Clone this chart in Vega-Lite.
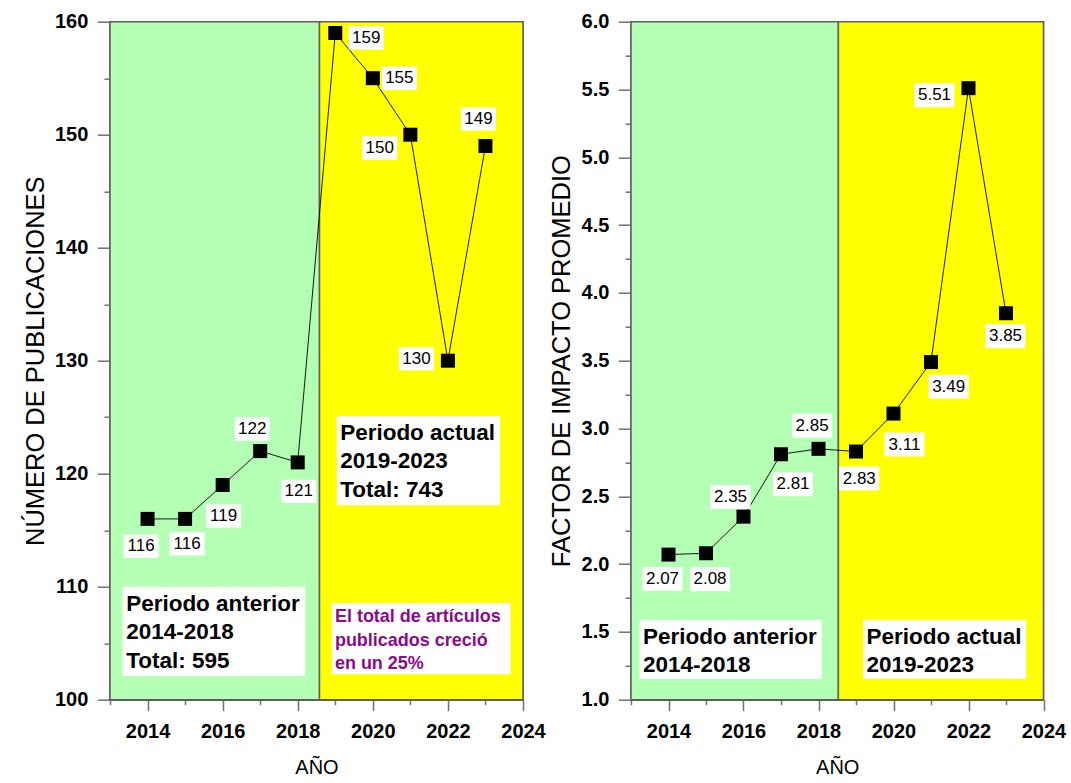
{
  "$schema": "https://vega.github.io/schema/vega-lite/v6.json",
  "background": "white",
  "padding": {"left": 22, "top": 10.7, "right": 0, "bottom": 0},
  "bounds": "flush",
  "spacing": 108,
  "datasets": {
    "pubs": [
      {"anio": 2014, "publicaciones": 116},
      {"anio": 2015, "publicaciones": 116},
      {"anio": 2016, "publicaciones": 119},
      {"anio": 2017, "publicaciones": 122},
      {"anio": 2018, "publicaciones": 121},
      {"anio": 2019, "publicaciones": 159},
      {"anio": 2020, "publicaciones": 155},
      {"anio": 2021, "publicaciones": 150},
      {"anio": 2022, "publicaciones": 130},
      {"anio": 2023, "publicaciones": 149}
    ],
    "fi": [
      {"anio": 2014, "factor": 2.07},
      {"anio": 2015, "factor": 2.08},
      {"anio": 2016, "factor": 2.35},
      {"anio": 2017, "factor": 2.81},
      {"anio": 2018, "factor": 2.85},
      {"anio": 2019, "factor": 2.83},
      {"anio": 2020, "factor": 3.11},
      {"anio": 2021, "factor": 3.49},
      {"anio": 2022, "factor": 5.51},
      {"anio": 2023, "factor": 3.85}
    ],
    "periodos_pub": [
      {"periodo": "anterior", "desde": 2013, "hasta": 2018.58},
      {"periodo": "actual", "desde": 2018.58, "hasta": 2024}
    ],
    "periodos_fi": [
      {"periodo": "anterior", "desde": 2013, "hasta": 2018.53},
      {"periodo": "actual", "desde": 2018.53, "hasta": 2024}
    ],
    "notas_pub": [
      {"texto": "Periodo anterior\n2014-2018\nTotal: 595", "x1": 2013.33, "x2": 2018.2, "y1": 110.0, "y2": 102.1, "tx": 2013.43, "ty": 107.87},
      {"texto": "Periodo actual\n2019-2023\nTotal: 743", "x1": 2019.04, "x2": 2023.39, "y1": 125.1, "y2": 117.2, "tx": 2019.13, "ty": 123.0}
    ],
    "nota_crecimiento": [
      {"texto": "El total de artículos\npublicados creció\nen un 25%", "x1": 2018.91, "x2": 2023.67, "y1": 108.56, "y2": 102.26, "tx": 2018.99, "ty": 106.84}
    ],
    "notas_fi": [
      {"texto": "Periodo anterior\n2014-2018", "x1": 2013.23, "x2": 2018.09, "y1": 1.59, "y2": 1.153, "tx": 2013.32, "ty": 1.413},
      {"texto": "Periodo actual\n2019-2023", "x1": 2019.19, "x2": 2023.54, "y1": 1.59, "y2": 1.153, "tx": 2019.28, "ty": 1.413}
    ]
  },
  "hconcat": [
    {
      "width": 413,
      "height": 678,
      "resolve": {"axis": {"x": "independent", "y": "independent"}},
      "layer": [
        {
          "layer": [
            {
              "data": {"name": "periodos_pub"},
              "mark": {"type": "rect", "stroke": "#5f5f5f", "strokeWidth": 1.5},
              "encoding": {
                "x": {"field": "desde", "type": "quantitative", "scale": {"domain": [2013, 2024], "nice": false, "zero": false}},
                "x2": {"field": "hasta"},
                "fill": {"field": "periodo", "type": "nominal", "scale": {"domain": ["anterior", "actual"], "range": ["#B3FFB3", "#FFFF00"]}, "legend": null}
              }
            },
            {
              "data": {"name": "pubs"},
              "mark": {"type": "line", "color": "black", "strokeWidth": 0.9},
              "encoding": {
                "x": {
                  "field": "anio", "type": "quantitative",
                  "scale": {"domain": [2013, 2024], "nice": false, "zero": false},
                  "axis": {
                    "title": "AÑO",
                    "orient": "bottom",
                    "values": [2014, 2016, 2018, 2020, 2022, 2024],
                    "format": "d",
                    "labelOverlap": false,
                    "labelFlush": false,
                    "tickSize": 11,
                    "labelPadding": 11,
                    "titleFontSize": 20,
                    "titlePadding": 16
                  }
                },
                "y": {
                  "field": "publicaciones", "type": "quantitative",
                  "scale": {"domain": [100, 160], "nice": false, "zero": false},
                  "axis": {
                    "title": "NÚMERO DE PUBLICACIONES",
                    "orient": "left",
                    "values": [100, 110, 120, 130, 140, 150, 160],
                    "labelOverlap": false,
                    "labelFlush": false,
                    "tickSize": 12.7,
                    "labelPadding": 9.5,
                    "titleFontSize": 25.5,
                    "titlePadding": 6
                  }
                }
              }
            },
            {
              "data": {"name": "pubs"},
              "mark": {"type": "point", "shape": "square", "filled": true, "color": "black", "opacity": 1, "size": 196},
              "encoding": {
                "x": {"field": "anio", "type": "quantitative"},
                "y": {"field": "publicaciones", "type": "quantitative"}
              }
            },
            {
              "data": {"name": "pubs"},
              "mark": {
                "type": "point", "shape": "M-1,-0.67H1V0.67H-1Z", "filled": true, "color": "white", "opacity": 1, "size": 1225,
                "xOffset": {"expr": "[-6.5, 2, 1, -8, 1, 31, 26.5, -30.6, -31.5, -7][datum.anio - 2014]"},
                "yOffset": {"expr": "[27.4, 25, 31, -22, 29, 5, 0, 13.4, -2, -27][datum.anio - 2014]"}
              },
              "encoding": {
                "x": {"field": "anio", "type": "quantitative"},
                "y": {"field": "publicaciones", "type": "quantitative"}
              }
            },
            {
              "data": {"name": "pubs"},
              "mark": {
                "type": "text", "font": "Liberation Sans", "fontSize": 17, "color": "black", "align": "center", "baseline": "middle",
                "xOffset": {"expr": "[-6.5, 2, 1, -8, 1, 31, 26.5, -30.6, -31.5, -7][datum.anio - 2014]"},
                "yOffset": {"expr": "[27.4, 25, 31, -22, 29, 5, 0, 13.4, -2, -27][datum.anio - 2014]"}
              },
              "encoding": {
                "x": {"field": "anio", "type": "quantitative"},
                "y": {"field": "publicaciones", "type": "quantitative"},
                "text": {"field": "publicaciones", "type": "quantitative", "format": "d"}
              }
            },
            {
              "data": {"name": "notas_pub"},
              "mark": {"type": "rect", "color": "white", "opacity": 1},
              "encoding": {
                "x": {"field": "x1", "type": "quantitative"},
                "x2": {"field": "x2"},
                "y": {"field": "y1", "type": "quantitative"},
                "y2": {"field": "y2"}
              }
            },
            {
              "data": {"name": "notas_pub"},
              "mark": {"type": "text", "font": "Liberation Sans", "fontSize": 22.5, "fontWeight": "bold", "color": "black", "align": "left", "baseline": "alphabetic", "lineBreak": "\n", "lineHeight": 28.6},
              "encoding": {
                "x": {"field": "tx", "type": "quantitative"},
                "y": {"field": "ty", "type": "quantitative"},
                "text": {"field": "texto", "type": "nominal"}
              }
            },
            {
              "data": {"name": "nota_crecimiento"},
              "mark": {"type": "rect", "color": "white", "opacity": 1},
              "encoding": {
                "x": {"field": "x1", "type": "quantitative"},
                "x2": {"field": "x2"},
                "y": {"field": "y1", "type": "quantitative"},
                "y2": {"field": "y2"}
              }
            },
            {
              "data": {"name": "nota_crecimiento"},
              "mark": {"type": "text", "font": "Liberation Sans", "fontSize": 18, "fontWeight": "bold", "color": "#8B0A8B", "align": "left", "baseline": "alphabetic", "lineBreak": "\n", "lineHeight": 23.3},
              "encoding": {
                "x": {"field": "tx", "type": "quantitative"},
                "y": {"field": "ty", "type": "quantitative"},
                "text": {"field": "texto", "type": "nominal"}
              }
            }
          ]
        },
        {
          "data": {"name": "pubs"},
          "mark": {"type": "point", "opacity": 0},
          "encoding": {
            "x": {"field": "anio", "type": "quantitative", "axis": {"orient": "bottom", "values": [2013, 2015, 2017, 2019, 2021, 2023], "labels": false, "domain": false, "tickSize": 5, "title": null}},
            "y": {"field": "publicaciones", "type": "quantitative", "axis": {"orient": "left", "values": [105, 115, 125, 135, 145, 155], "labels": false, "domain": false, "tickSize": 6, "title": null}}
          }
        }
      ]
    },
    {
      "width": 412.5,
      "height": 678,
      "resolve": {"axis": {"x": "independent", "y": "independent"}},
      "layer": [
        {
          "layer": [
            {
              "data": {"name": "periodos_fi"},
              "mark": {"type": "rect", "stroke": "#5f5f5f", "strokeWidth": 1.5},
              "encoding": {
                "x": {"field": "desde", "type": "quantitative", "scale": {"domain": [2013, 2024], "nice": false, "zero": false}},
                "x2": {"field": "hasta"},
                "fill": {"field": "periodo", "type": "nominal", "scale": {"domain": ["anterior", "actual"], "range": ["#B3FFB3", "#FFFF00"]}, "legend": null}
              }
            },
            {
              "data": {"name": "fi"},
              "mark": {"type": "line", "color": "black", "strokeWidth": 0.9},
              "encoding": {
                "x": {
                  "field": "anio", "type": "quantitative",
                  "scale": {"domain": [2013, 2024], "nice": false, "zero": false},
                  "axis": {
                    "title": "AÑO",
                    "orient": "bottom",
                    "values": [2014, 2016, 2018, 2020, 2022, 2024],
                    "format": "d",
                    "labelOverlap": false,
                    "labelFlush": false,
                    "tickSize": 11,
                    "labelPadding": 11,
                    "titleFontSize": 20,
                    "titlePadding": 16
                  }
                },
                "y": {
                  "field": "factor", "type": "quantitative",
                  "scale": {"domain": [1, 6], "nice": false, "zero": false},
                  "axis": {
                    "title": "FACTOR DE IMPACTO PROMEDIO",
                    "orient": "left",
                    "values": [1, 1.5, 2, 2.5, 3, 3.5, 4, 4.5, 5, 5.5, 6],
                    "format": ".1f",
                    "labelOverlap": false,
                    "labelFlush": false,
                    "tickSize": 12.7,
                    "labelPadding": 9.5,
                    "titleFontSize": 25.5,
                    "titlePadding": 6
                  }
                }
              }
            },
            {
              "data": {"name": "fi"},
              "mark": {"type": "point", "shape": "square", "filled": true, "color": "black", "opacity": 1, "size": 196},
              "encoding": {
                "x": {"field": "anio", "type": "quantitative"},
                "y": {"field": "factor", "type": "quantitative"}
              }
            },
            {
              "data": {"name": "fi"},
              "mark": {
                "type": "point", "shape": "M-1,-0.6H1V0.6H-1Z", "filled": true, "color": "white", "opacity": 1, "size": 1600,
                "xOffset": {"expr": "[-6, 4, -13, 12, -6.4, 3.3, 11, 17.7, -34, -0.5][datum.anio - 2014]"},
                "yOffset": {"expr": "[24.5, 26, -19.6, 30, -23, 27, 31, 24.6, 7, 23][datum.anio - 2014]"}
              },
              "encoding": {
                "x": {"field": "anio", "type": "quantitative"},
                "y": {"field": "factor", "type": "quantitative"}
              }
            },
            {
              "data": {"name": "fi"},
              "mark": {
                "type": "text", "font": "Liberation Sans", "fontSize": 17, "color": "black", "align": "center", "baseline": "middle",
                "xOffset": {"expr": "[-6, 4, -13, 12, -6.4, 3.3, 11, 17.7, -34, -0.5][datum.anio - 2014]"},
                "yOffset": {"expr": "[24.5, 26, -19.6, 30, -23, 27, 31, 24.6, 7, 23][datum.anio - 2014]"}
              },
              "encoding": {
                "x": {"field": "anio", "type": "quantitative"},
                "y": {"field": "factor", "type": "quantitative"},
                "text": {"field": "factor", "type": "quantitative", "format": ".2f"}
              }
            },
            {
              "data": {"name": "notas_fi"},
              "mark": {"type": "rect", "color": "white", "opacity": 1},
              "encoding": {
                "x": {"field": "x1", "type": "quantitative"},
                "x2": {"field": "x2"},
                "y": {"field": "y1", "type": "quantitative"},
                "y2": {"field": "y2"}
              }
            },
            {
              "data": {"name": "notas_fi"},
              "mark": {"type": "text", "font": "Liberation Sans", "fontSize": 22.5, "fontWeight": "bold", "color": "black", "align": "left", "baseline": "alphabetic", "lineBreak": "\n", "lineHeight": 28.3},
              "encoding": {
                "x": {"field": "tx", "type": "quantitative"},
                "y": {"field": "ty", "type": "quantitative"},
                "text": {"field": "texto", "type": "nominal"}
              }
            }
          ]
        },
        {
          "data": {"name": "fi"},
          "mark": {"type": "point", "opacity": 0},
          "encoding": {
            "x": {"field": "anio", "type": "quantitative", "axis": {"orient": "bottom", "values": [2013, 2015, 2017, 2019, 2021, 2023], "labels": false, "domain": false, "tickSize": 5, "title": null}},
            "y": {"field": "factor", "type": "quantitative", "axis": {"orient": "left", "values": [1.25, 1.75, 2.25, 2.75, 3.25, 3.75, 4.25, 4.75, 5.25, 5.75], "labels": false, "domain": false, "tickSize": 6, "title": null}}
          }
        }
      ]
    }
  ],
  "config": {
    "view": {"stroke": "#5f5f5f", "strokeWidth": 1.5},
    "axis": {
      "labelFont": "Liberation Sans",
      "titleFont": "Liberation Sans",
      "labelColor": "black",
      "titleColor": "black",
      "labelFontWeight": "bold",
      "labelFontSize": 20,
      "titleFontWeight": "normal",
      "domainColor": "#5f5f5f",
      "domainWidth": 1.5,
      "tickColor": "#707070",
      "tickWidth": 1.5,
      "grid": false
    }
  }
}
